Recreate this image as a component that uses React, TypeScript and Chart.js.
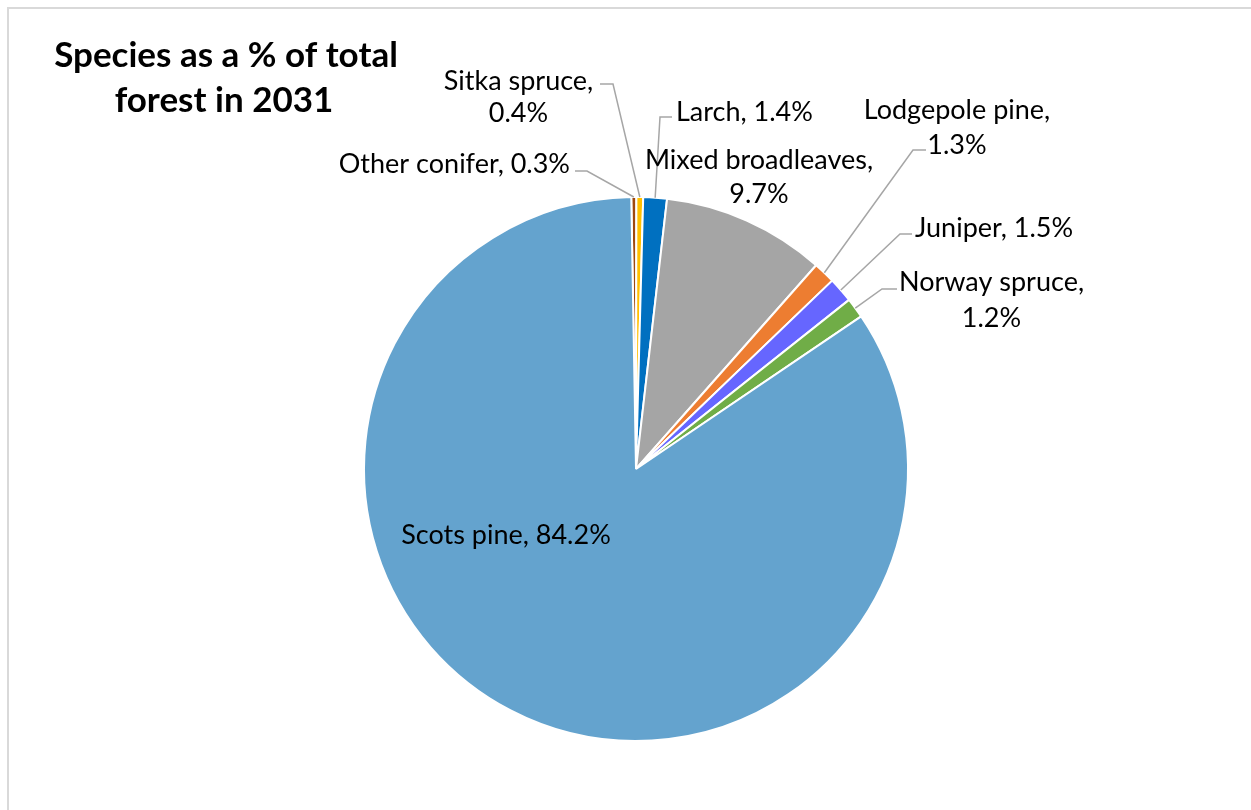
import React, { useEffect, useRef } from "react";
import { Chart, registerables } from "chart.js";

Chart.register(...registerables);

// ---- data ----
const species = [
  "Other conifer",
  "Sitka spruce",
  "Larch",
  "Mixed broadleaves",
  "Lodgepole pine",
  "Juniper",
  "Norway spruce",
  "Scots pine",
];
const shares = [0.3, 0.4, 1.4, 9.7, 1.3, 1.5, 1.2, 84.2];
const sliceColors = [
  "#9E480E",
  "#FFC000",
  "#0070C0",
  "#A5A5A5",
  "#ED7D31",
  "#6666FF",
  "#70AD47",
  "#64A3CE",
];
const titleLines = ["Species as a % of total", "forest in 2031"];

// ---- label layout (positions only) ----
type Layout = {
  split: boolean;
  align: CanvasTextAlign;
  x: number;
  baselines: number[];
  leader?: { elbow: [number, number]; end: [number, number] };
};
const labelLayout: Layout[] = [
  { split: false, align: "right", x: 570, baselines: [173], leader: { elbow: [587, 171], end: [575, 171] } },
  { split: true, align: "center", x: 518.5, baselines: [90, 122], leader: { elbow: [613, 84], end: [600, 84] } },
  { split: false, align: "left", x: 676, baselines: [121], leader: { elbow: [660, 117], end: [672, 117] } },
  { split: true, align: "center", x: 759, baselines: [169, 203] },
  { split: true, align: "center", x: 957, baselines: [119, 154], leader: { elbow: [913, 150], end: [926, 150] } },
  { split: false, align: "left", x: 915, baselines: [237], leader: { elbow: [900, 234], end: [912, 234] } },
  { split: true, align: "center", x: 991.5, baselines: [291, 327], leader: { elbow: [882, 289], end: [897, 289] } },
  { split: false, align: "center", x: 506, baselines: [544] },
];

const LABEL_FONT = "27px Lato";
const TITLE_FONT = "bold 35px Lato";

const decorPlugin = {
  id: "decor",
  beforeDraw(chart: any) {
    const ctx = chart.ctx as CanvasRenderingContext2D;
    ctx.save();
    ctx.fillStyle = "#ffffff";
    ctx.fillRect(0, 0, chart.width, chart.height);
    ctx.strokeStyle = "#D9D9D9";
    ctx.lineWidth = 2;
    ctx.beginPath();
    ctx.moveTo(8, chart.height + 5);
    ctx.lineTo(8, 8);
    ctx.lineTo(chart.width + 5, 8);
    ctx.stroke();
    ctx.restore();
  },
  afterDatasetsDraw(chart: any) {
    const ctx = chart.ctx as CanvasRenderingContext2D;
    const meta = chart.getDatasetMeta(0);
    ctx.save();
    // title
    ctx.fillStyle = "#000000";
    ctx.font = TITLE_FONT;
    ctx.textAlign = "center";
    ctx.textBaseline = "alphabetic";
    ctx.fillText(titleLines[0], 226, 67);
    ctx.fillText(titleLines[1], 224, 112);

    // leaders and labels
    meta.data.forEach((arc: any, i: number) => {
      const lay = labelLayout[i];
      const p = arc.getProps(["x", "y", "startAngle", "endAngle", "outerRadius"], true);
      const mid = (p.startAngle + p.endAngle) / 2;
      const ax = p.x + Math.cos(mid) * p.outerRadius;
      const ay = p.y + Math.sin(mid) * p.outerRadius;
      if (lay.leader) {
        ctx.strokeStyle = "#A6A6A6";
        ctx.lineWidth = 1.5;
        ctx.beginPath();
        ctx.moveTo(ax, ay);
        ctx.lineTo(lay.leader.elbow[0], lay.leader.elbow[1]);
        ctx.lineTo(lay.leader.end[0], lay.leader.end[1]);
        ctx.stroke();
      }
      const pct = shares[i].toFixed(1) + "%";
      const lines = lay.split ? [species[i] + ",", pct] : [species[i] + ", " + pct];
      ctx.fillStyle = "#000000";
      ctx.font = LABEL_FONT;
      ctx.textAlign = lay.align;
      lines.forEach((t, k) => ctx.fillText(t, lay.x, lay.baselines[k]));
    });
    ctx.restore();
  },
};

export default function App() {
  const ref = useRef<HTMLCanvasElement | null>(null);
  useEffect(() => {
    if (!ref.current) return;
    const chart = new Chart(ref.current, {
      type: "pie",
      data: {
        labels: species,
        datasets: [
          {
            data: shares,
            backgroundColor: sliceColors,
            borderColor: "#ffffff",
            borderWidth: 2,
          },
        ],
      },
      options: {
        responsive: false,
        animation: false,
        rotation: -1,
        layout: { padding: { left: 363, right: 342, top: 196, bottom: 68 } },
        plugins: {
          legend: { display: false },
          title: { display: false },
          tooltip: { enabled: false },
        },
        events: [],
      },
      plugins: [decorPlugin],
    });
    return () => chart.destroy();
  }, []);
  return (
    <div style={{ position: "absolute", left: 0, top: 0, width: 1251, height: 810, background: "#fff" }}>
      <canvas ref={ref} width={1251} height={810} style={{ width: 1251, height: 810, display: "block" }} />
    </div>
  );
}
